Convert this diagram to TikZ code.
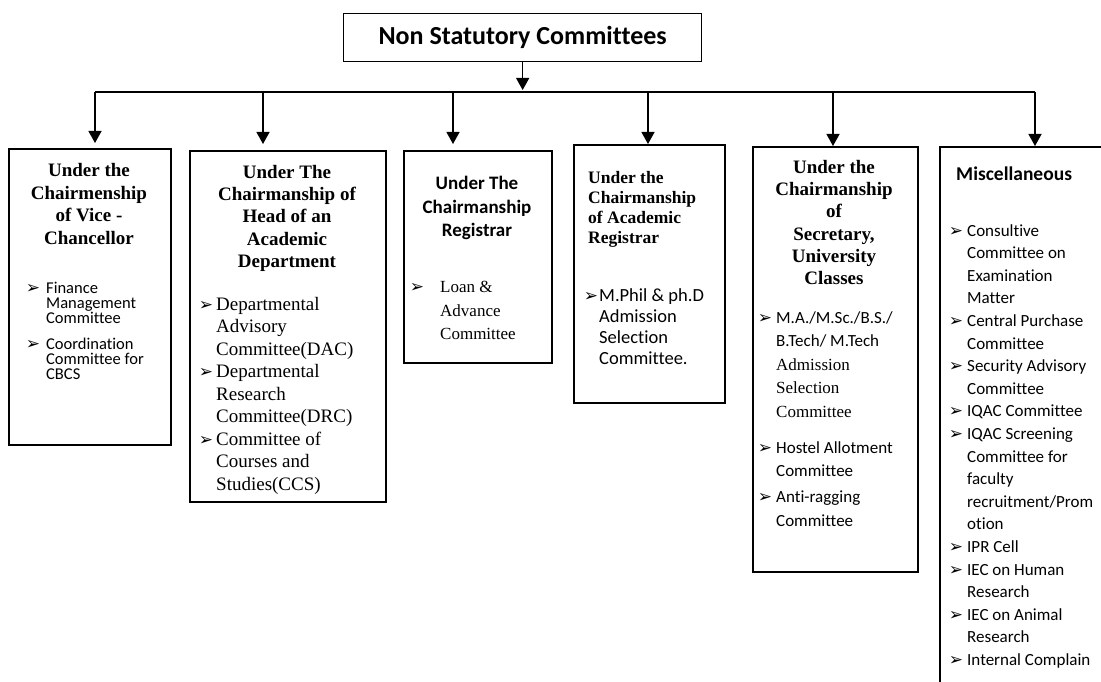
\documentclass[tikz,border=0pt]{standalone}
\usepackage{fontspec}
\setmainfont{Liberation Serif}
\newfontfamily\calibri[RawFeature={-liga;-clig;-calt;-dlig}]{Carlito}
\newfontfamily\dingfont{DejaVu Sans}
\usetikzlibrary{arrows.meta}
\setlength{\lineskiplimit}{-20pt}
\newcommand{\bul}[1]{\makebox[0pt][r]{{\dingfont\fontsize{17}{17}\selectfont ➢}\hspace{#1}}}

\begin{document}
\begin{tikzpicture}[x=1pt, y=-1pt,
    box/.style={draw, line width=1.8pt, anchor=north west, inner sep=0pt},
    arr/.style={-{Triangle[length=12pt, width=13pt]}, line width=1.3pt},
    txt/.style={inner sep=0pt, anchor=north}]
            \useasboundingbox (0,0) rectangle (1101,682);

            %top
            \node[draw, line width=1.3pt, minimum width=358pt, minimum height=48pt, anchor=north west, font=\calibri\bfseries\fontsize{26}{30}\selectfont] (top) at (343,13) {Non Statutory Committees};

            %boxes
            \node[box, minimum width=162pt, minimum height=296pt] (vc) at (8,148) {};
            \node[box, minimum width=196pt, minimum height=351pt] (head) at (189,150) {};
            \node[box, minimum width=148pt, minimum height=212pt] (reg) at (403,150) {};
            \node[box, minimum width=151pt, minimum height=258pt] (acad) at (573,144) {};
            \node[box, minimum width=165pt, minimum height=425pt] (sec) at (752,146) {};
            \node[box, minimum width=180pt, minimum height=560pt] (misc) at (939,146) {};

            %titles
            \node[txt, align=center, font=\bfseries\fontsize{19}{22.7}\selectfont] (vcT) at (89,163) {Under the\\Chairmenship\\of Vice -\\Chancellor};
            \node[txt, align=center, font=\bfseries\fontsize{19}{22.3}\selectfont] (headT) at (287,165) {Under The\\Chairmanship of\\Head of an\\Academic\\Department};
            \node[txt, align=center, font=\calibri\bfseries\fontsize{19}{23.5}\selectfont] (regT) at (477,176) {Under The\\Chairmanship\\Registrar};
            \node[txt, anchor=north west, align=left, font=\bfseries\fontsize{17.5}{20}\selectfont] (acadT) at (588,171) {Under the\\Chairmanship\\of Academic\\Registrar};
            \node[txt, align=center, font=\bfseries\fontsize{19}{22.3}\selectfont] (secT) at (834,160) {Under the\\Chairmanship\\of\\Secretary,\\University\\Classes};
            \node[txt, anchor=north west, font=\calibri\bfseries\fontsize{19.5}{23}\selectfont] (miscT) at (956,167) {Miscellaneous};

            %lists
            \node[txt, anchor=north west, align=left, font=\calibri\fontsize{16.5}{15}\selectfont] (vcL) at (46,282) {\bul{6pt}Finance\\Management\\Committee\\[11pt]\bul{6pt}Coordination\\Committee for\\CBCS};
            \node[txt, anchor=north west, align=left, font=\fontsize{19}{22.5}\selectfont] (headL) at (216,297) {\bul{3pt}Departmental\\Advisory\\Committee(DAC)\\\bul{3pt}Departmental\\Research\\Committee(DRC)\\\bul{3pt}Committee of\\Courses and\\Studies(CCS)};
            \node[txt, anchor=north west, align=left, font=\fontsize{17}{23.5}\selectfont] (regL) at (440,281) {\bul{16pt}Loan \&\\Advance\\Committee};
            \node[txt, anchor=north west, align=left, font=\calibri\fontsize{18.5}{21}\selectfont] (acadL) at (599,288) {\bul{1pt}M.Phil \& ph.D\\Admission\\Selection\\Committee.};
            \node[txt, anchor=north west, align=left, font=\calibri\fontsize{17}{23.5}\selectfont] (secL) at (776,311) {\bul{4pt}M.A./M.Sc./B.S./\\B.Tech/ M.Tech\\{\rmfamily Admission}\\{\rmfamily Selection}\\{\rmfamily Committee}\\[12.5pt]\bul{4pt}Hostel Allotment\\Committee\\[2.5pt]\bul{4pt}Anti-ragging\\Committee};
            \node[txt, anchor=north west, align=left, font=\calibri\fontsize{17}{22.6}\selectfont] (miscL) at (967,224) {\bul{4pt}Consultive\\Committee on\\Examination\\Matter\\\bul{4pt}Central Purchase\\Committee\\\bul{4pt}Security Advisory\\Committee\\\bul{4pt}IQAC Committee\\\bul{4pt}IQAC Screening\\Committee for\\faculty\\recruitment/Prom\\otion\\\bul{4pt}IPR Cell\\\bul{4pt}IEC on Human\\Research\\\bul{4pt}IEC on Animal\\Research\\\bul{4pt}Internal Complain};

            %edges
            \coordinate (busL) at (95,92);
            \coordinate (j2) at (263,92);
            \coordinate (j3) at (453,92);
            \coordinate (j4) at (648,92);
            \coordinate (j5) at (833,92);
            \coordinate (busR) at (1035,92);
            \draw[line width=2pt] (busL) -- (busR);
            \draw[arr, shorten >=2pt] (top.south) -- (top.south |- busL);
            \draw[arr, shorten >=5pt] (busL) -- (busL |- vc.north);
            \draw[arr, shorten >=6pt] (j2) -- (j2 |- head.north);
            \draw[arr, shorten >=6pt] (j3) -- (j3 |- reg.north);
            \draw[arr] (j4) -- (j4 |- acad.north);
            \draw[arr] (j5) -- (j5 |- sec.north);
            \draw[arr] (busR) -- (busR |- misc.north);
        \end{tikzpicture}
\end{document}
